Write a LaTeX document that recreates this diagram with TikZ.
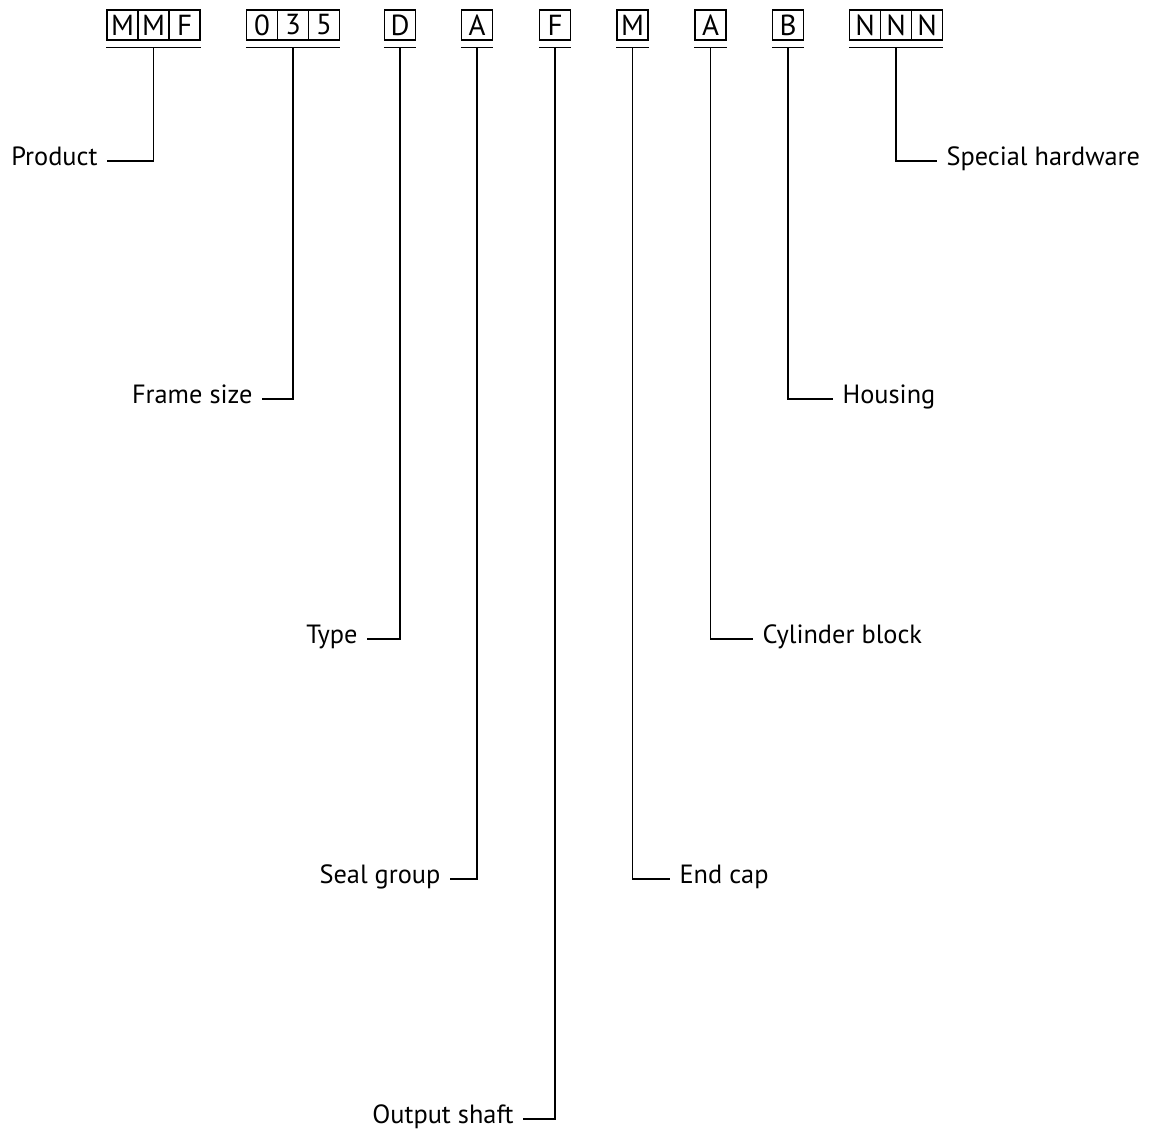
\documentclass[tikz,border=0pt]{standalone}
\usepackage{fontspec}
\setmainfont{PT Sans}
\usepackage{tikz}
\usepackage{xcolor}

\begin{document}
\begin{tikzpicture}[x=0.02cm, y=-0.02cm, line width=0.65pt,
    charbox/.style={draw, minimum width=0.62cm, minimum height=0.6cm, inner sep=0pt,
      font=\fontsize{16.5}{18}\selectfont},
    lbl/.style={inner xsep=0.18cm, inner ysep=0pt, font=\fontsize{15}{18}\selectfont}]
  \useasboundingbox (0,0) rectangle (1150,1136);

  % code boxes
  \node[charbox] (m1) at (122.5,25) {M};
  \node[charbox] (m2) at (153.5,25) {M};
  \node[charbox] (m3) at (184.5,25) {F};
  \node[charbox] (s1) at (262,25) {0};
  \node[charbox] (s2) at (293,25) {3};
  \node[charbox] (s3) at (324,25) {5};
  \node[charbox] (type) at (400,25) {D};
  \node[charbox] (seal) at (477,25) {A};
  \node[charbox] (shaft) at (555,25) {F};
  \node[charbox] (cap) at (632.5,25) {M};
  \node[charbox] (block) at (710.5,25) {A};
  \node[charbox] (house) at (788,25) {B};
  \node[charbox] (n1) at (865,25) {N};
  \node[charbox] (n2) at (896,25) {N};
  \node[charbox] (n3) at (927,25) {N};

  % bars under the boxes
  \coordinate (mmf_bar) at (153.5,47.5);
  \coordinate (size_bar) at (293,47.5);
  \coordinate (type_bar) at (400,47.5);
  \coordinate (seal_bar) at (477,47.5);
  \coordinate (shaft_bar) at (555,47.5);
  \coordinate (cap_bar) at (632.5,47.5);
  \coordinate (block_bar) at (710.5,47.5);
  \coordinate (house_bar) at (788,47.5);
  \coordinate (nnn_bar) at (896,47.5);

  \draw (m1.west |- mmf_bar) -- (m3.east |- mmf_bar);
  \draw (s1.west |- size_bar) -- (s3.east |- size_bar);
  \draw (type.west |- type_bar) -- (type.east |- type_bar);
  \draw (seal.west |- seal_bar) -- (seal.east |- seal_bar);
  \draw (shaft.west |- shaft_bar) -- (shaft.east |- shaft_bar);
  \draw (cap.west |- cap_bar) -- (cap.east |- cap_bar);
  \draw (block.west |- block_bar) -- (block.east |- block_bar);
  \draw (house.west |- house_bar) -- (house.east |- house_bar);
  \draw (n1.west |- nnn_bar) -- (n3.east |- nnn_bar);

  % labels
  \node[lbl, anchor=mid east] (product) at (107,161) {Product};
  \node[lbl, anchor=mid east] (framesize) at (262,399) {Frame size};
  \node[lbl, anchor=mid east] (typelbl) at (367,639) {Type};
  \node[lbl, anchor=mid east] (seallbl) at (450,879) {Seal group};
  \node[lbl, anchor=mid east] (shaftlbl) at (523,1119) {Output shaft};
  \node[lbl, anchor=mid west] (caplbl) at (670,879) {End cap};
  \node[lbl, anchor=mid west] (blocklbl) at (753,639) {Cylinder block};
  \node[lbl, anchor=mid west] (houselbl) at (833,399) {Housing};
  \node[lbl, anchor=mid west] (special) at (937,161) {Special hardware};

  % leaders
  \draw (mmf_bar) |- (product.mid east);
  \draw (size_bar) |- (framesize.mid east);
  \draw (type_bar) |- (typelbl.mid east);
  \draw (seal_bar) |- (seallbl.mid east);
  \draw (shaft_bar) |- (shaftlbl.mid east);
  \draw (cap_bar) |- (caplbl.mid west);
  \draw (block_bar) |- (blocklbl.mid west);
  \draw (house_bar) |- (houselbl.mid west);
  \draw (nnn_bar) |- (special.mid west);
\end{tikzpicture}
\end{document}
